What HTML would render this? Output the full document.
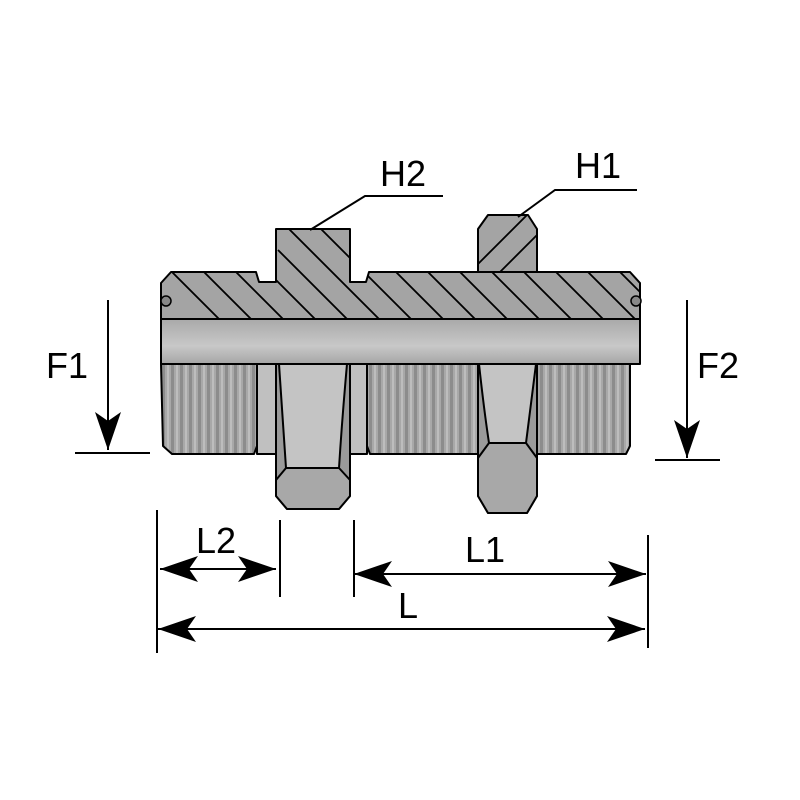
<!DOCTYPE html>
<html><head><style>html,body{margin:0;padding:0;background:#fff}svg{display:block}</style></head><body>
<svg width="800" height="800" viewBox="0 0 800 800" xmlns="http://www.w3.org/2000/svg">
<defs>
<pattern id="thr" x="0" y="0" width="9" height="10" patternUnits="userSpaceOnUse">
<rect width="9" height="10" fill="#a8a8a8"/>
<rect x="0" width="3" height="10" fill="#8c8c8c"/>
<rect x="5" width="2" height="10" fill="#bdbdbd"/>
</pattern>
<linearGradient id="bore" x1="0" y1="0" x2="0" y2="1">
<stop offset="0" stop-color="#a9a9a9"/><stop offset="0.6" stop-color="#c8c8c8"/><stop offset="1" stop-color="#a5a5a5"/>
</linearGradient>
<clipPath id="hc">
<path d="M171,272 L256,272 L259,282 L276,282 L276,229 L350,229 L350,282 L366,282 L369,272 L630,272 L640,283 L640,319 L161,319 L161,283 Z"/>
</clipPath>
<clipPath id="hc2">
<path d="M478,229 L488,215 L528,215 L537,229 L537,272 L478,272 Z"/>
</clipPath>
<marker id="a" viewBox="0 0 40 30" refX="38" refY="15" markerWidth="40" markerHeight="30" markerUnits="userSpaceOnUse" orient="auto-start-reverse">
<path d="M0,2 L38,15 L0,28 L9,15 Z" fill="#000"/>
</marker>
</defs>
<g stroke="#000" stroke-width="2" stroke-linejoin="round">
<g fill="#a4a4a4">
<path d="M171,272 L256,272 L259,282 L276,282 L276,229 L350,229 L350,282 L366,282 L369,272 L630,272 L640,283 L640,319 L161,319 L161,283 Z"/>
<path d="M478,229 L488,215 L528,215 L537,229 L537,272 L478,272 Z"/>
</g>
<g clip-path="url(#hc)" stroke-width="1.8">
<path d="M150,250 l90,90 M182,250 l90,90 M214,250 l90,90 M246,250 l90,90 M278,250 l90,90 M310,250 l90,90 M342,250 l90,90 M374,250 l90,90 M406,250 l90,90 M438,250 l90,90 M470,250 l90,90 M502,250 l90,90 M534,250 l90,90 M566,250 l90,90 M598,250 l90,90 M278,218 l60,60 M310,218 l60,60"/>
</g>
<g clip-path="url(#hc2)" stroke-width="1.8">
<path d="M478,264 l60,-60 M500,272 l60,-60"/>
</g>
<circle cx="166" cy="301" r="5" fill="#888" stroke-width="1.5"/>
<circle cx="636" cy="301" r="5" fill="#888" stroke-width="1.5"/>
<rect x="161" y="319" width="479" height="45" fill="url(#bore)"/>
<path d="M161,364 L257,364 L257,446 L254,454 L172,454 L163,446 Z" fill="url(#thr)"/>
<rect x="257" y="364" width="19" height="90" fill="#c0c0c0"/>
<rect x="350" y="364" width="17" height="90" fill="#c0c0c0"/>
<path d="M367,364 L630,364 L630,446 L626,454 L370,454 L367,446 Z" fill="url(#thr)"/>
<path d="M276,364 L350,364 L350,496 L339,509 L287,509 L276,496 Z" fill="#9a9a9a"/>
<path d="M279,364 L347,364 Q342,420 339,468 L286,468 Q283,420 279,364 Z" fill="#c4c4c4"/>
<path d="M286,468 L339,468 L350,480 L350,496 L339,509 L287,509 L276,496 L276,480 Z" fill="#a8a8a8"/>
<path d="M478,364 L537,364 L537,496 L527,513 L488,513 L478,496 Z" fill="#9a9a9a"/>
<path d="M479,364 L536,364 Q530,410 526,443 L489,443 Q484,410 479,364 Z" fill="#c4c4c4"/>
<path d="M489,443 L526,443 L537,458 L537,496 L527,513 L488,513 L478,496 L478,458 Z" fill="#a8a8a8"/>
</g>
<g stroke="#000" stroke-width="2" fill="none">
<line x1="108" y1="300" x2="108" y2="450" marker-end="url(#a)"/>
<line x1="75" y1="453" x2="150" y2="453"/>
<line x1="687" y1="300" x2="687" y2="458" marker-end="url(#a)"/>
<line x1="655" y1="460" x2="720" y2="460"/>
<line x1="157" y1="510" x2="157" y2="653"/>
<line x1="280" y1="520" x2="280" y2="597"/>
<line x1="354" y1="520" x2="354" y2="597"/>
<line x1="648" y1="535" x2="648" y2="648"/>
<line x1="160" y1="569" x2="276" y2="569" marker-start="url(#a)" marker-end="url(#a)"/>
<line x1="354" y1="574" x2="646" y2="574" marker-start="url(#a)" marker-end="url(#a)"/>
<line x1="158" y1="629" x2="645" y2="629" marker-start="url(#a)" marker-end="url(#a)"/>
<polyline points="310,230 365,196 443,196"/>
<polyline points="518,217 555,190 637,190"/>
</g>
<g font-family="Liberation Sans, sans-serif" font-size="36" fill="#000">
<text x="380" y="186">H2</text>
<text x="575" y="178">H1</text>
<text x="46" y="378">F1</text>
<text x="697" y="378">F2</text>
<text x="196" y="553">L2</text>
<text x="465" y="562">L1</text>
<text x="398" y="618">L</text>
</g>
</svg>
</body></html>
